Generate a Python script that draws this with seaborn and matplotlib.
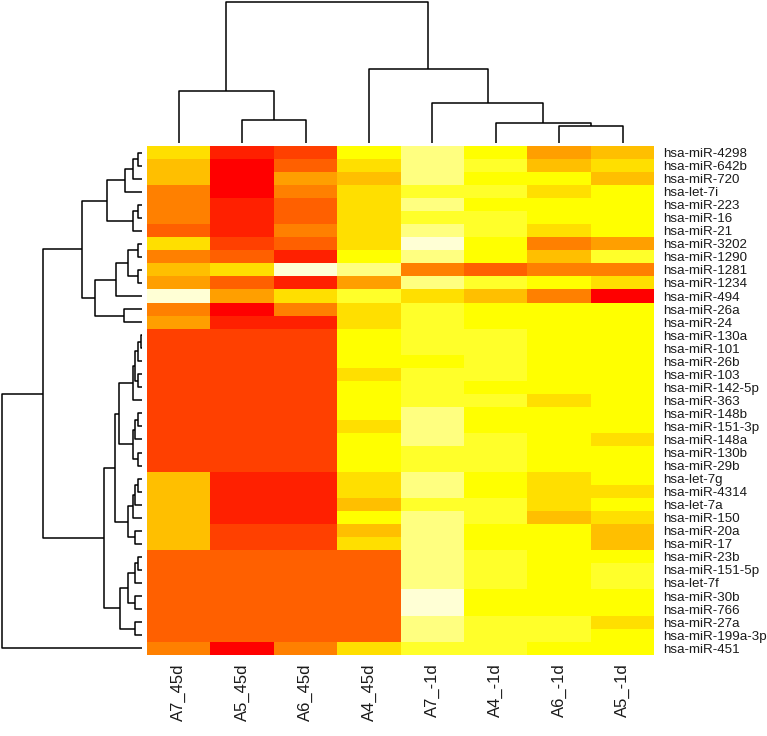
import numpy as np
import pandas as pd
import matplotlib
matplotlib.use("Agg")
import matplotlib.pyplot as plt
import seaborn as sns
from matplotlib.colors import ListedColormap

# ---------------- data ----------------
rows = ["hsa-miR-4298", "hsa-miR-642b", "hsa-miR-720", "hsa-let-7i", "hsa-miR-223",
        "hsa-miR-16", "hsa-miR-21", "hsa-miR-3202", "hsa-miR-1290", "hsa-miR-1281",
        "hsa-miR-1234", "hsa-miR-494", "hsa-miR-26a", "hsa-miR-24", "hsa-miR-130a",
        "hsa-miR-101", "hsa-miR-26b", "hsa-miR-103", "hsa-miR-142-5p", "hsa-miR-363",
        "hsa-miR-148b", "hsa-miR-151-3p", "hsa-miR-148a", "hsa-miR-130b", "hsa-miR-29b",
        "hsa-let-7g", "hsa-miR-4314", "hsa-let-7a", "hsa-miR-150", "hsa-miR-20a",
        "hsa-miR-17", "hsa-miR-23b", "hsa-miR-151-5p", "hsa-let-7f", "hsa-miR-30b",
        "hsa-miR-766", "hsa-miR-27a", "hsa-miR-199a-3p", "hsa-miR-451"]

cols = ["A7_45d", "A5_45d", "A6_45d", "A4_45d", "A7_-1d", "A4_-1d", "A6_-1d", "A5_-1d"]

# scaled expression level of each cell (0 = lowest / red ... 11 = highest / pale)
A7_45d = [7, 6, 6, 4, 4, 4, 3, 7, 4, 6, 5, 11, 4, 5,
          2, 2, 2, 2, 2, 2, 2, 2, 2, 2, 2,
          6, 6, 6, 6, 6, 6, 3, 3, 3, 3, 3, 3, 3, 4]
A5_45d = [1, 0, 0, 0, 1, 1, 1, 2, 3, 7, 3, 5, 0, 1,
          2, 2, 2, 2, 2, 2, 2, 2, 2, 2, 2,
          1, 1, 1, 1, 2, 2, 3, 3, 3, 3, 3, 3, 3, 0]
A6_45d = [2, 3, 5, 4, 3, 3, 4, 3, 1, 11, 1, 7, 4, 1,
          2, 2, 2, 2, 2, 2, 2, 2, 2, 2, 2,
          1, 1, 1, 1, 2, 2, 3, 3, 3, 3, 3, 3, 3, 4]
A4_45d = [8, 7, 6, 7, 7, 7, 7, 7, 8, 10, 5, 9, 7, 7,
          8, 8, 8, 7, 8, 8, 8, 7, 8, 8, 8,
          7, 7, 6, 8, 6, 7, 3, 3, 3, 3, 3, 3, 3, 7]
A7_m1d = [10, 10, 10, 9, 10, 9, 10, 11, 10, 4, 10, 7, 9, 9,
          9, 9, 8, 9, 9, 9, 10, 10, 10, 9, 9,
          10, 10, 9, 10, 10, 10, 10, 10, 10, 11, 11, 10, 10, 9]
A4_m1d = [8, 9, 8, 9, 8, 9, 9, 8, 8, 3, 9, 6, 8, 8,
          9, 9, 9, 9, 8, 9, 8, 8, 9, 9, 9,
          8, 8, 9, 9, 8, 8, 9, 9, 9, 8, 8, 9, 9, 9]
A6_m1d = [5, 6, 8, 7, 8, 8, 7, 4, 6, 4, 8, 4, 8, 8,
          8, 8, 8, 8, 8, 7, 8, 8, 8, 8, 8,
          7, 7, 7, 6, 8, 8, 8, 8, 8, 8, 8, 9, 9, 8]
A5_m1d = [6, 7, 6, 8, 8, 8, 8, 5, 9, 4, 7, 0, 8, 8,
          8, 8, 8, 8, 8, 8, 8, 8, 7, 8, 8,
          8, 7, 8, 7, 6, 6, 8, 9, 9, 8, 8, 7, 8, 8]

# dendrogram merge heights: (height, left, right), leaves = row / column index
col_tree = (141, (52, 0, (22.7, 1, 2)),
            (73.4, 3, (39.4, 4, (20, 5, (16.7, 6, 7)))))

row_A = (35, (16.7, (8.3, (3.3, 0, 1), 2), 3), (8.3, (3.3, 4, 5), 6))
row_B = (46.7, (25.7, (14, (3.3, 7, 8), (3.3, 9, 10)), 11), (17.7, 12, 13))
row_C = (22.3, (9, (6.7, (4, (1, 14, 15), 16), (4, 17, 18)), 19),
         (8.3, (6.7, (3.3, 20, 21), 22), (3.3, 23, 24)))
row_D = (13.3, (9, (6.7, (3.3, 25, 26), 27), 28), (6.7, 29, 30))
row_E = (21.7, (13.3, (6.7, (3.3, 31, 32), 33), (6.7, 34, 35)), (6.7, 36, 37))
row_tree = (140, (98.3, (59.3, row_A, row_B), (37.3, (26.7, row_C, row_D), row_E)), 38)

# R heat.colors(12)
heat_colors = ["#FF0000", "#FF2000", "#FF4000", "#FF6000", "#FF8000", "#FF9F00",
               "#FFBF00", "#FFDF00", "#FFFF00", "#FFFF2A", "#FFFF80", "#FFFFD5"]


def build_linkage(tree, n):
    Z = []
    nxt = [n]

    def walk(node):
        if isinstance(node, int):
            return node, 1
        h, left, right = node
        a, ca = walk(left)
        b, cb = walk(right)
        Z.append([a, b, h, ca + cb])
        idx = nxt[0]
        nxt[0] += 1
        return idx, ca + cb

    walk(tree)
    return np.array(Z, dtype=float)


df = pd.DataFrame({"A7_45d": A7_45d, "A5_45d": A5_45d, "A6_45d": A6_45d,
                   "A4_45d": A4_45d, "A7_-1d": A7_m1d, "A4_-1d": A4_m1d,
                   "A6_-1d": A6_m1d, "A5_-1d": A5_m1d}, index=rows)[cols]

row_link = build_linkage(row_tree, len(rows))
col_link = build_linkage(col_tree, len(cols))

plt.rcParams["figure.dpi"] = 100
plt.rcParams["font.family"] = ["Liberation Sans", "DejaVu Sans"]

W, H = 767, 736
g = sns.clustermap(df, row_linkage=row_link, col_linkage=col_link,
                   cmap=ListedColormap(heat_colors), vmin=-0.5, vmax=11.5,
                   figsize=(W / 100, H / 100), cbar_pos=None,
                   xticklabels=True, yticklabels=True,
                   tree_kws={"linewidths": 1.1, "colors": "black"})

# layout (pixel measurements of the reference)
hm_l, hm_r, hm_t, hm_b = 147, 654.3, 146, 654.7
g.ax_heatmap.set_position([hm_l / W, 1 - hm_b / H, (hm_r - hm_l) / W, (hm_b - hm_t) / H])
g.ax_row_dendrogram.set_position([0, 1 - hm_b / H, 141.7 / W, (hm_b - hm_t) / H])
g.ax_col_dendrogram.set_position([hm_l / W, 1 - 142.7 / H, (hm_r - hm_l) / W, 142.7 / H])
g.ax_row_dendrogram.set_xlim(141.7, 0)
g.ax_col_dendrogram.set_ylim(0, 142.7)

ax = g.ax_heatmap
ax.set_xlabel("")
ax.set_ylabel("")
ax.tick_params(axis="both", length=0)
ax.tick_params(axis="y", pad=6)
ax.tick_params(axis="x", pad=6)
for t in ax.get_yticklabels():
    t.set_fontsize(9.6)
    t.set_rotation(0)
    t.set_color("#1a1a1a")
for t in ax.get_xticklabels():
    t.set_fontsize(12)
    t.set_rotation(90)
    t.set_color("#1a1a1a")

g.figure.savefig("out.png", dpi=100)
